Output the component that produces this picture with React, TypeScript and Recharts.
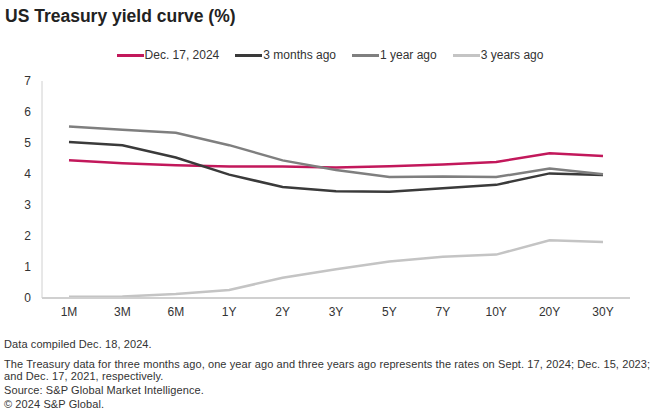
import { LineChart, Line, XAxis, YAxis } from 'recharts';

const tenors = ['1M', '3M', '6M', '1Y', '2Y', '3Y', '5Y', '7Y', '10Y', '20Y', '30Y'];
const dec2024 = [4.44, 4.35, 4.28, 4.24, 4.24, 4.21, 4.25, 4.31, 4.39, 4.67, 4.58];
const threeMonthsAgo = [5.03, 4.93, 4.53, 3.98, 3.58, 3.44, 3.43, 3.54, 3.65, 4.02, 3.97];
const oneYearAgo = [5.53, 5.43, 5.33, 4.93, 4.44, 4.13, 3.9, 3.92, 3.9, 4.18, 3.99];
const threeYearsAgo = [0.04, 0.05, 0.13, 0.26, 0.65, 0.93, 1.18, 1.33, 1.4, 1.86, 1.81];
const yTicks = [0, 1, 2, 3, 4, 5, 6, 7];

const series = [
  { key: 'dec2024', name: 'Dec. 17, 2024', color: '#c2185b', values: dec2024 },
  { key: 'm3', name: '3 months ago', color: '#3a3a3a', values: threeMonthsAgo },
  { key: 'y1', name: '1 year ago', color: '#7f7f7f', values: oneYearAgo },
  { key: 'y3', name: '3 years ago', color: '#c4c4c4', values: threeYearsAgo },
];

const data = tenors.map((t, i) => {
  const row: Record<string, string | number> = { tenor: t };
  series.forEach((s) => {
    row[s.key] = s.values[i];
  });
  return row;
});

const font = '"Liberation Sans", Arial, sans-serif';

export default function App() {
  return (
    <div style={{ position: 'absolute', top: 0, left: 0, width: 660, height: 420, background: '#fff', fontFamily: font, color: '#333' }}>
      <div style={{ position: 'absolute', left: 5, top: 6, fontSize: 17.5, fontWeight: 'bold', color: '#222' }}>
        US Treasury yield curve (%)
      </div>
      {/* legend */}
      <div style={{ position: 'absolute', top: 48, left: 0, width: 660, display: 'flex', justifyContent: 'center', gap: 16, fontSize: 12, color: '#333' }}>
        {series.map((s) => (
          <div key={s.key} style={{ display: 'flex', alignItems: 'center' }}>
            <span style={{ display: 'inline-block', width: 27, height: 3, background: s.color, marginRight: 1 }} />
            <span>{s.name}</span>
          </div>
        ))}
      </div>
      <div style={{ position: 'absolute', top: 0, left: 0 }}>
        <LineChart width={660} height={330} data={data} margin={{ top: 81, right: 30, bottom: 0, left: 12 }}>
          <XAxis
            dataKey="tenor"
            height={32}
            padding={{ left: 27, right: 27 }}
            tickLine={false}
            axisLine={{ stroke: '#d0d0d0', strokeWidth: 2 }}
            tick={{ fill: '#333', fontSize: 12, fontFamily: font }}
            tickMargin={3}
            interval={0}
          />
          <YAxis
            width={30}
            domain={[0, 7]}
            ticks={yTicks}
            tickLine={false}
            tickSize={0}
            tickMargin={11}
            axisLine={{ stroke: '#d0d0d0', strokeWidth: 1 }}
            tick={{ fill: '#333', fontSize: 12, fontFamily: font }}
          />
          {series.map((s) => (
            <Line
              key={s.key}
              dataKey={s.key}
              name={s.name}
              stroke={s.color}
              strokeWidth={2.5}
              dot={false}
              activeDot={false}
              isAnimationActive={false}
            />
          ))}
        </LineChart>
      </div>
      <div style={{ position: 'absolute', left: 4, top: 338, fontSize: 11, letterSpacing: 0.1, lineHeight: '12px', color: '#333', width: 655 }}>
        <div style={{ marginBottom: 8 }}>Data compiled Dec. 18, 2024.</div>
        <div style={{ marginBottom: 2 }}>
          The Treasury data for three months ago, one year ago and three years ago represents the rates on Sept. 17, 2024; Dec. 15, 2023; and Dec. 17, 2021, respectively.
        </div>
        <div style={{ marginBottom: 2 }}>Source: S&amp;P Global Market Intelligence.</div>
        <div>© 2024 S&amp;P Global.</div>
      </div>
    </div>
  );
}
